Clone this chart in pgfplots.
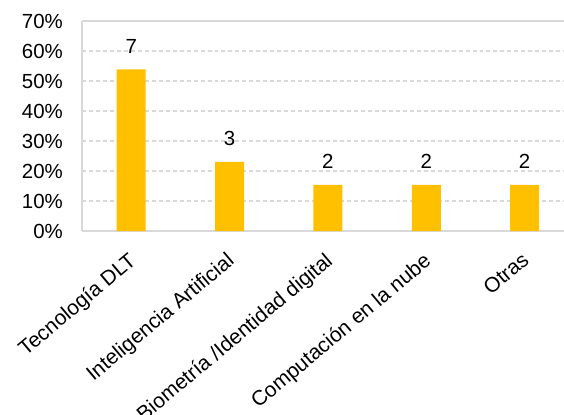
\documentclass[border=0pt]{standalone}
\usepackage{pgfplots}
\pgfplotsset{compat=1.18}
\usepackage{fontspec}
\setmainfont{Liberation Sans}
\definecolor{baryel}{HTML}{FFC000}
\definecolor{gridg}{HTML}{D9D9D9}
\begin{document}
\begin{tikzpicture}
\begin{axis}[
  scale only axis, width=482bp, height=210bp,
  at={(0,0)}, anchor=south west,
  ymin=0, ymax=70, xmin=-0.5, xmax=4.4,
  ytick={0,10,...,70},
  /pgf/number format/assume math mode=true,
  yticklabel={\pgfmathprintnumber{\tick}\%},
  xtick=data,
  xticklabels={Tecnología DLT, Inteligencia Artificial, Biometría /Identidad digital, Computación en la nube, Otras},
  xticklabel style={xshift=-4bp, yshift=-20bp, rotate=40, anchor=north east, inner sep=0pt, font=\fontsize{21}{25}\selectfont},
  yticklabel style={inner sep=0pt, xshift=-19bp, anchor=east, font=\fontsize{20.5}{24}\selectfont},
  tick label style={text=black},
  axis x line*=box, axis y line*=left,
  axis line style={gridg, line width=1.2pt},
  major tick length=0pt,
  ymajorgrids,
  grid style={gridg, line width=1.2pt, dash pattern=on 4pt off 3pt},
  clip=false,
]
\addplot[ybar, bar width=29bp, fill=baryel, draw=none,
  nodes near coords, point meta=explicit symbolic,
  nodes near coords style={font=\fontsize{20.5}{24}\selectfont, text=black, anchor=center, yshift=23bp}]
  table[meta=n] {
x y n
0 53.85 7
1 23.08 3
2 15.38 2
3 15.38 2
4 15.38 2
};
\end{axis}
\pgfresetboundingbox
\path (-82bp,-184bp) rectangle (482bp,231bp);
\end{tikzpicture}
\end{document}
